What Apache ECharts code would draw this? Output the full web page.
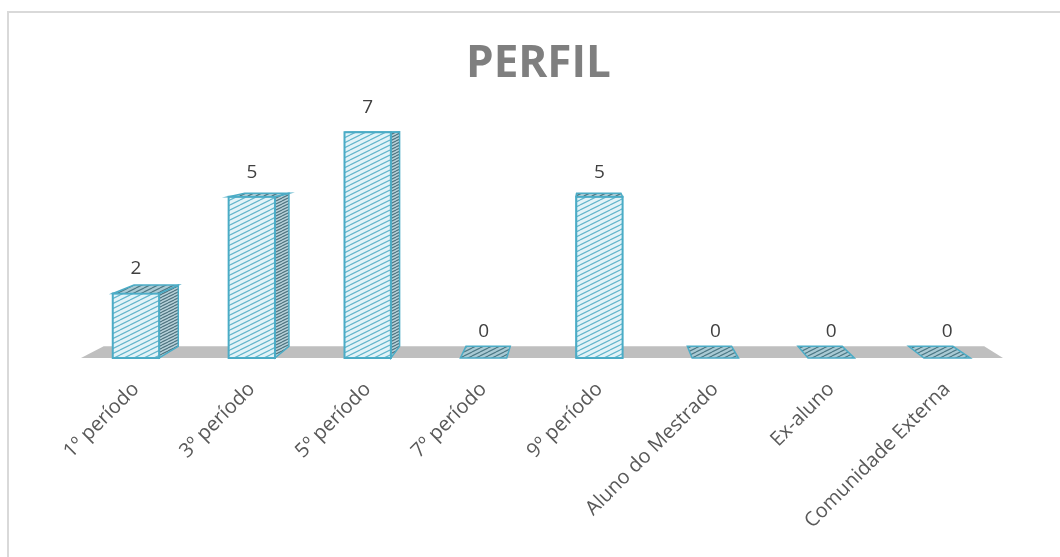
<!DOCTYPE html>
<html>
<head>
<meta charset="utf-8">
<title>Perfil</title>
<script src="https://cdn.jsdelivr.net/npm/echarts@6/dist/echarts.min.js"></script>
<style>
html, body { margin: 0; padding: 0; background: #fff; }
#main { width: 1060px; height: 557px; }
</style>
</head>
<body>
<div id="main"></div>
<script>
var categorias = ['1º período', '3º período', '5º período', '7º período', '9º período', 'Aluno do Mestrado', 'Ex-aluno', 'Comunidade Externa'];
var quantidades = [2, 5, 7, 0, 5, 0, 0, 0];

// ponto de fuga da "perspectiva" 3D do Excel
var VX = 585, VY = 125, KX = 0.045, KY = 0.05;
var borda = '#4bacc6';

function hachura(fundo, traco, passo) {
  var c = document.createElement('canvas');
  c.width = passo * 2;
  c.height = passo;
  var ctx = c.getContext('2d');
  ctx.fillStyle = fundo;
  ctx.fillRect(0, 0, c.width, c.height);
  ctx.strokeStyle = traco;
  ctx.lineWidth = 1.2;
  for (var k = -1; k <= 1; k++) {
    ctx.beginPath();
    ctx.moveTo(0, passo + k * passo);
    ctx.lineTo(2 * passo, k * passo);
    ctx.stroke();
  }
  return { image: c, repeat: 'repeat' };
}

var padraoFrente = hachura('#e3f3f8', '#62b6cc', 5);
var padraoLado = hachura('#b9d3db', '#4f7480', 3);
var padraoTopo = hachura('#a9cad4', '#4d7985', 4);

function fundo(p) {
  return [p[0] + (VX - p[0]) * KX, p[1] + (VY - p[1]) * KY];
}

function desenhaBarra(params, api) {
  var i = api.value(0);
  var v = api.value(1);
  var base = api.coord([i, 0]);
  var topo = api.coord([i, v]);
  var w = api.size([1, 0])[0] * 0.40;
  var xl = base[0] - w / 2, xr = base[0] + w / 2;
  var yb = base[1], yt = topo[1];
  var ftl = [xl, yt], ftr = [xr, yt], fbr = [xr, yb], fbl = [xl, yb];
  var btl = fundo(ftl), btr = fundo(ftr), bbr = fundo(fbr), bbl = fundo(fbl);
  var lado = base[0] < VX ? [ftr, btr, bbr, fbr] : [ftl, btl, bbl, fbl];
  var filhos = [];
  if (v > 0) {
    filhos.push({ type: 'polygon', shape: { points: lado }, style: { fill: padraoLado, stroke: borda, lineWidth: 1.5 } });
    filhos.push({ type: 'rect', shape: { x: xl, y: yt, width: w, height: yb - yt }, style: { fill: padraoFrente, stroke: borda, lineWidth: 2 } });
  }
  filhos.push({ type: 'polygon', shape: { points: [ftl, ftr, btr, btl] }, style: { fill: padraoTopo, stroke: borda, lineWidth: 1.5 } });
  filhos.push({
    type: 'text',
    style: {
      text: String(v), x: base[0], y: yt - (v > 0 ? 15 : 17),
      align: 'center', verticalAlign: 'bottom',
      font: '19px "Open Sans"', fill: '#404040'
    }
  });
  return { type: 'group', children: filhos };
}

function desenhaPiso(params, api) {
  var cs = params.coordSys;
  var yb = api.coord([0, 0])[1];
  var fl = [cs.x + 3, yb], fr = [cs.x + cs.width - 2, yb];
  return { type: 'polygon', shape: { points: [fl, fr, fundo(fr), fundo(fl)] }, style: { fill: '#bfbfbf' } };
}

var grafico = echarts.init(document.getElementById('main'));
var option = {
  animation: false,
  title: {
    text: 'PERFIL',
    left: 466,
    top: 42,
    padding: 0,
    textStyle: { fontFamily: 'Open Sans', fontSize: 44, fontWeight: 'bold', color: '#7f7f7f' }
  },
  graphic: [{
    type: 'rect',
    shape: { x: 8, y: 12, width: 1100, height: 600 },
    style: { fill: 'none', stroke: '#d9d9d9', lineWidth: 2 },
    silent: true
  }],
  grid: { left: 78, right: 55, top: 100, bottom: 199 },
  xAxis: {
    type: 'category',
    data: categorias,
    axisLine: { show: false },
    axisTick: { show: false },
    axisLabel: { rotate: 45, margin: 28, fontFamily: 'Open Sans', fontSize: 20, color: '#595959', interval: 0 }
  },
  yAxis: { type: 'value', min: 0, max: 8, show: false, splitLine: { show: false } },
  series: [
    { type: 'custom', renderItem: desenhaPiso, data: [[0, 0]], silent: true, z: 1 },
    {
      type: 'custom',
      renderItem: desenhaBarra,
      data: quantidades.map(function (q, i) { return [i, q]; }),
      encode: { x: 0, y: 1 },
      z: 2
    }
  ]
};
grafico.setOption(option);
</script>
</body>
</html>
